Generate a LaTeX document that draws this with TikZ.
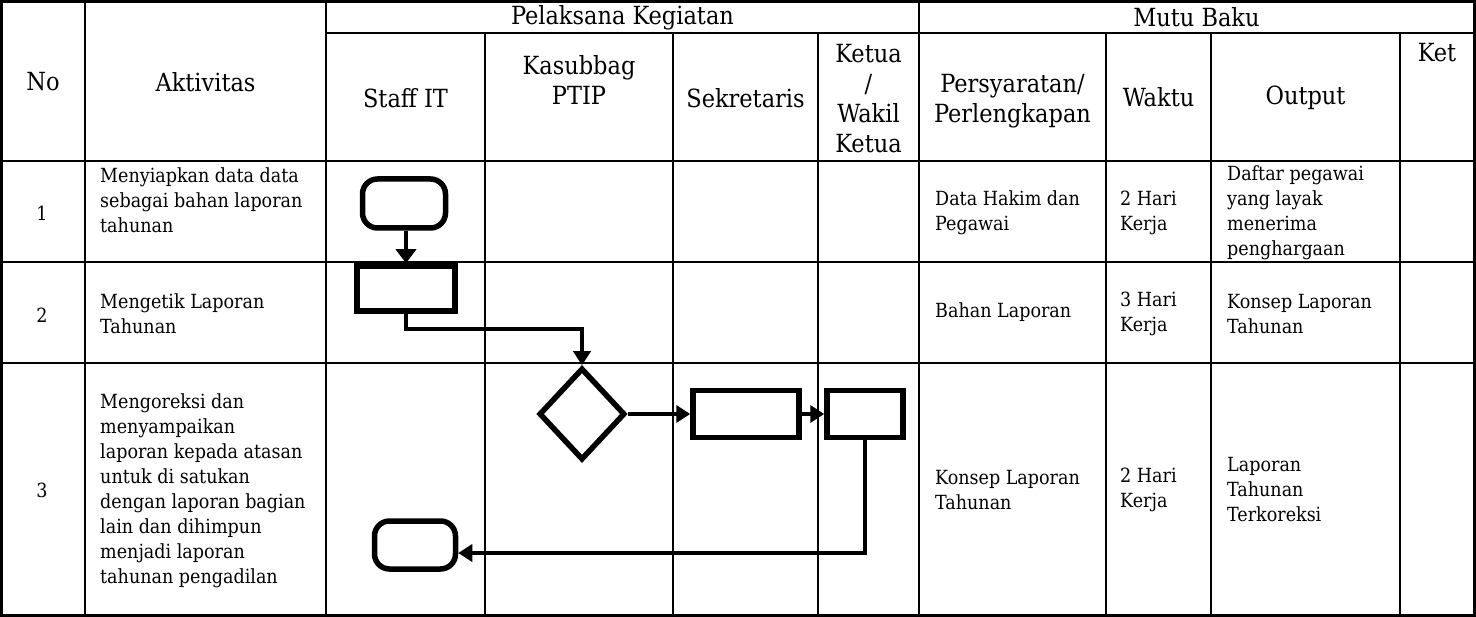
\documentclass[tikz,border=0pt]{standalone}
\usepackage{fontspec}
\setmainfont{DejaVu Serif Condensed}
\usetikzlibrary{shapes.geometric,arrows.meta,calc}
\begin{document}
\begin{tikzpicture}[x=1pt,y=-1pt,
  gridline/.style={line width=2.8pt},
  hdr/.style={font=\fontsize{25}{30}\selectfont, align=center, inner sep=0pt},
  bod/.style={font=\fontsize{19.5}{25}\selectfont, align=left, inner sep=0pt, anchor=west},
  num/.style={font=\fontsize{19.5}{25}\selectfont, inner sep=0pt},
  shp/.style={draw, line width=5.5pt, inner sep=0pt, fill=white},
  term/.style={shp, rectangle, rounded corners=15pt},
  proc/.style={shp, rectangle},
  dec/.style={shp, diamond, minimum width=86pt, minimum height=92pt},
  conn/.style={line width=4.5pt, -{Triangle[length=14pt,width=17pt]}},
  bigconn/.style={line width=4.5pt, -{Triangle[length=14pt,width=20pt]}}
]
\useasboundingbox (0,0) rectangle (1476,617);
% table grid
\draw[gridline] (1.5,1.5) rectangle (1474.5,615.5);
\draw[gridline] (326,33) -- (1474.5,33);
\foreach \yy in {161,262,363} \draw[gridline] (1.5,\yy) -- (1474.5,\yy);
\foreach \xx in {85,326,919} \draw[gridline] (\xx,1.5) -- (\xx,615.5);
\foreach \xx in {485,673,818,1106,1211,1400} \draw[gridline] (\xx,33) -- (\xx,615.5);
% headers
\node[hdr] (hNo) at (43,82) {No};
\node[hdr] (hAkt) at (205.5,82) {Aktivitas};
\node[hdr] (hPel) at (622.5,17.5) {Pelaksana Kegiatan};
\node[hdr] (hMutu) at (1196.5,17.5) {Mutu Baku};
\node[hdr] (hStaff) at (405.5,98) {Staff IT};
\node[hdr] (hKas) at (579,80) {Kasubbag\\PTIP};
\node[hdr] (hSek) at (745.5,98) {Sekretaris};
\node[hdr] (hKetua) at (868.5,99) {Ketua\\/\\Wakil\\Ketua};
\node[hdr] (hPers) at (1012.5,101) {Persyaratan/\\Perlengkapan};
\node[hdr] (hWak) at (1158.5,97) {Waktu};
\node[hdr] (hOut) at (1305.5,98) {Output};
\node[hdr] (hKet) at (1437,53) {Ket};
% body
\node[num] (n1) at (42,213) {1};
\node[num] (n2) at (42,315) {2};
\node[num] (n3) at (42,490) {3};
\node[bod] (a1) at (100,200.5) {Menyiapkan data data\\sebagai bahan laporan\\tahunan};
\node[bod] (a2) at (100,314) {Mengetik Laporan\\Tahunan};
\node[bod] (a3) at (100,491) {Mengoreksi dan\\menyampaikan\\laporan kepada atasan\\untuk di satukan\\dengan laporan bagian\\lain dan dihimpun\\menjadi laporan\\tahunan pengadilan};
\node[bod] (p1) at (935,213) {Data Hakim dan\\Pegawai};
\node[bod] (w1) at (1120,213) {2 Hari\\Kerja};
\node[bod] (o1) at (1227,212.5) {Daftar pegawai\\yang layak\\menerima\\penghargaan};
\node[bod] (p2) at (935,312) {Bahan Laporan};
\node[bod] (w2) at (1120,314) {3 Hari\\Kerja};
\node[bod] (o2) at (1227,314) {Konsep Laporan\\Tahunan};
\node[bod] (p3) at (935,490) {Konsep Laporan\\Tahunan};
\node[bod] (w3) at (1120,490) {2 Hari\\Kerja};
\node[bod] (o3) at (1227,490) {Laporan\\Tahunan\\Terkoreksi};
% flow shapes
\node[term, minimum width=83pt, minimum height=49pt] (t1) at (404,203.5) {};
\node[proc, minimum width=98pt, minimum height=45pt] (r1) at (406,288.5) {};
\node[dec] (d1) at (582,414) {};
\node[proc, minimum width=106pt, minimum height=47pt] (r2) at (746,414) {};
\node[proc, minimum width=76pt, minimum height=47pt] (r3) at (865,414) {};
\node[term, minimum width=81pt, minimum height=48pt] (t2) at (415,545) {};
% connectors
\coordinate (k1) at (0,329);
\draw[bigconn] (t1.south -| r1.north) -- (r1.north);
\draw[conn] (r1.south) -- (r1.south |- k1) -| (d1.north);
\draw[conn] (d1.east) -- (r2.west);
\draw[conn] (r2.east) -- (r3.west);
\draw[conn] (r3.south) |- ([yshift=-8pt]t2.east);
\end{tikzpicture}
\end{document}
